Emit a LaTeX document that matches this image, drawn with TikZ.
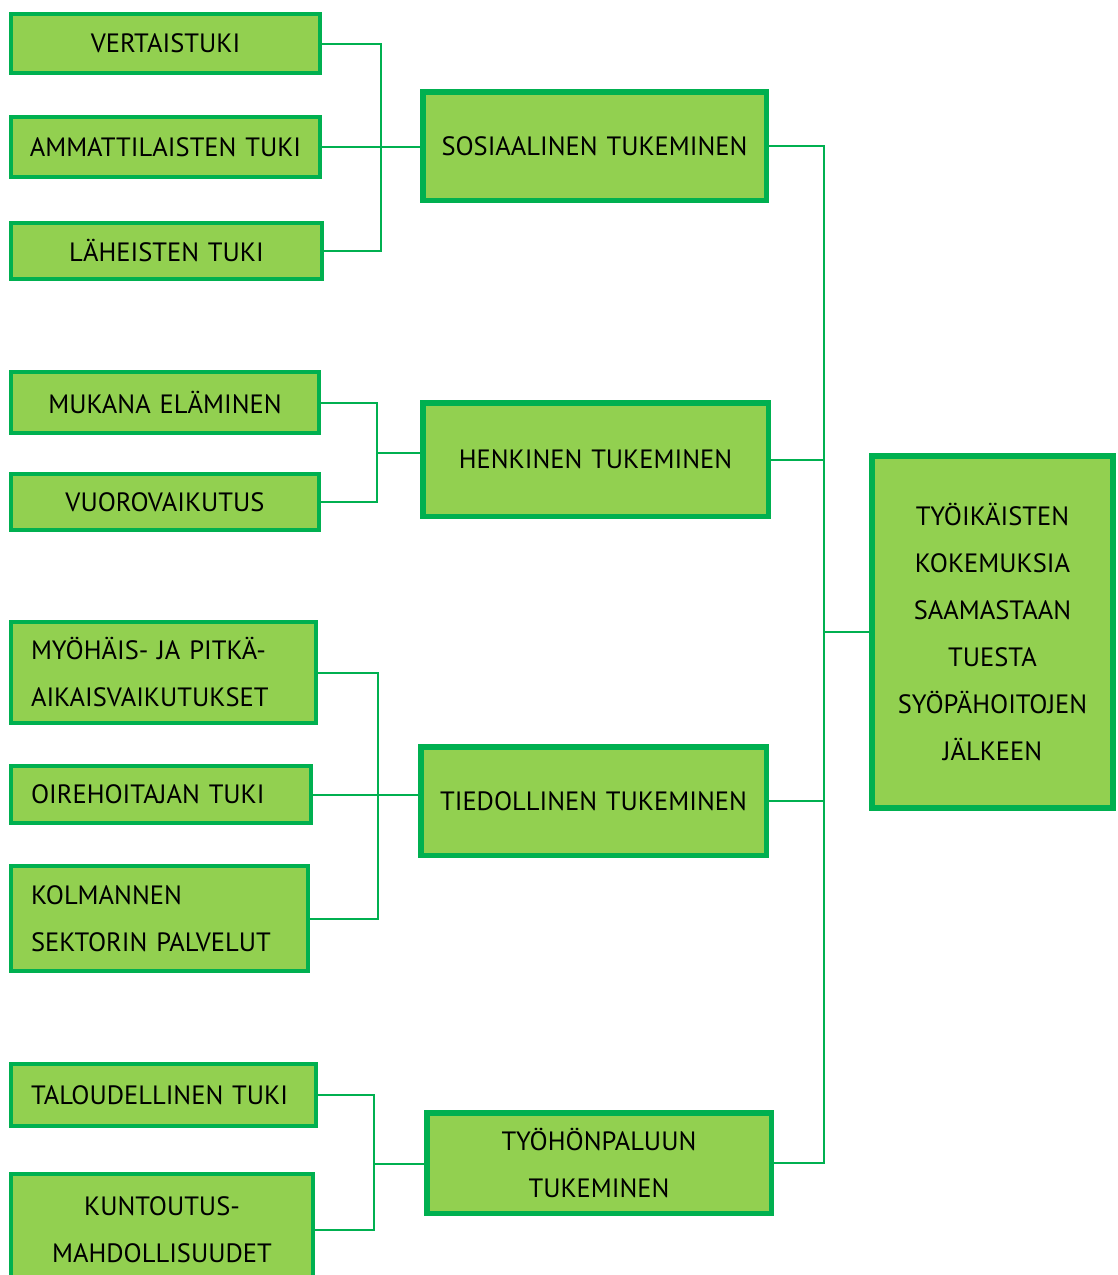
\documentclass[tikz,border=0pt]{standalone}
\usepackage{fontspec}
\setmainfont{PT Sans}
\definecolor{fillg}{HTML}{92D050}
\definecolor{lineg}{HTML}{00B050}
\begin{document}
\begin{tikzpicture}[x=1pt,y=-1pt,
  box/.style={draw=lineg, fill=fillg, inner ysep=0pt, align=center,
    font=\fontsize{26.5}{47}\selectfont},
  leaf/.style={box, line width=4pt},
  mid/.style={box, line width=5.5pt},
  top/.style={box, line width=6.5pt},
  cbox/.style n args={2}{inner xsep=6pt, text width=#1-12pt, minimum height=#2},
  lbox/.style n args={2}{inner xsep=20pt, text width=#1-40pt, minimum height=#2, align=left},
  conn/.style={draw=lineg, line width=2pt}]
\useasboundingbox (0,0) rectangle (1118,1275);
% group 1
\node[leaf, cbox={309}{59}] (v1) at (165.5,43.5) {VERTAISTUKI};
\node[leaf, cbox={309}{60}] (v2) at (165.5,147) {AMMATTILAISTEN TUKI};
\node[leaf, cbox={311}{56}] (v3) at (166.5,251) {LÄHEISTEN TUKI};
\node[mid, cbox={343.5}{108.5}] (m1) at (594.5,146) {SOSIAALINEN TUKEMINEN};
% group 2
\node[leaf, cbox={308}{61}] (h1) at (165,402.5) {MUKANA ELÄMINEN};
\node[leaf, cbox={308}{56}] (h2) at (165,502) {VUOROVAIKUTUS};
\node[mid, cbox={345.5}{113.5}] (m2) at (595.5,459.5) {HENKINEN TUKEMINEN};
% group 3
\node[leaf, lbox={305}{101}] (t1) at (163.5,672.5) {MYÖHÄIS- JA PITKÄ-\\AIKAISVAIKUTUKSET};
\node[leaf, lbox={300}{57}] (t2) at (161,794.5) {OIREHOITAJAN TUKI};
\node[leaf, lbox={297}{105}] (t3) at (159.5,918.5) {KOLMANNEN\\SEKTORIN PALVELUT};
\node[mid, cbox={345.5}{108.5}] (m3) at (593.5,801) {TIEDOLLINEN TUKEMINEN};
% group 4
\node[leaf, lbox={305}{62}] (w1) at (163.5,1095) {TALOUDELLINEN TUKI};
\node[leaf, cbox={302}{112}] (w2) at (162,1230) {KUNTOUTUS-\\MAHDOLLISUUDET};
\node[mid, cbox={344.5}{100.5}] (m4) at (599,1163) {TYÖHÖNPALUUN\\TUKEMINEN};
% main
\node[top, cbox={241}{352}] (M) at (992.5,632) {TYÖIKÄISTEN\\KOKEMUKSIA\\SAAMASTAAN\\TUESTA\\SYÖPÄHOITOJEN\\JÄLKEEN};
% bus points
\coordinate (b1) at (381,147);
\coordinate (b2) at (377,453);
\coordinate (b3) at (378,794);
\coordinate (b4) at (374,1164);
\coordinate (rb) at (824,632);
% connectors
\draw[conn] (v1.east) -| (b1) |- (v3.east);
\draw[conn] (v2.east) -- (v2.east -| m1.west);
\draw[conn] (h1.east) -| (b2) |- (h2.east);
\draw[conn] (b2) -- (b2 -| m2.west);
\draw[conn] (t1.east) -| (b3) |- (t3.east);
\draw[conn] (t2.east) -- (t2.east -| m3.west);
\draw[conn] (w1.east) -| (b4) |- (w2.east);
\draw[conn] (b4) -- (b4 -| m4.west);
\draw[conn] (m1.east) -| (rb) |- (m4.east);
\draw[conn] (m2.east) -- (m2.east -| rb);
\draw[conn] (m3.east) -- (m3.east -| rb);
\draw[conn] (rb) -- (M.west);
\end{tikzpicture}
\end{document}
